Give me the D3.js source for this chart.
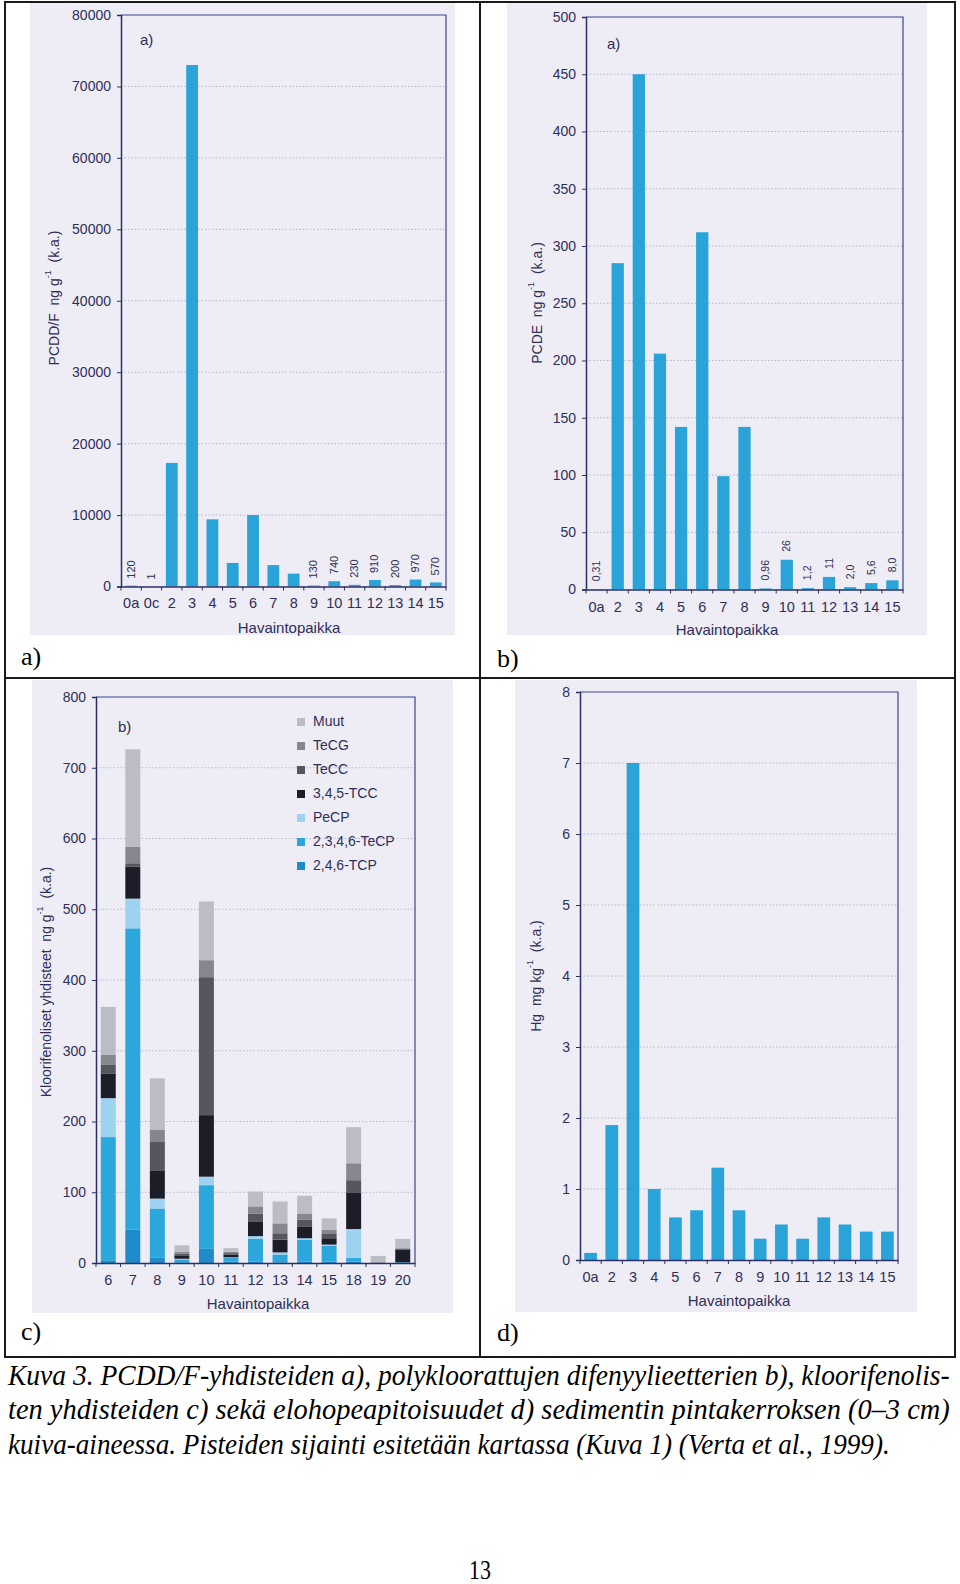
<!DOCTYPE html>
<html><head><meta charset="utf-8">
<script src="https://cdn.jsdelivr.net/npm/d3@7"></script>
<style>
html,body{margin:0;padding:0;background:#fff;}
svg{display:block;}
.sans{font-family:"Liberation Sans",Arial,Helvetica,sans-serif;}
.serif{font-family:"Liberation Serif","Times New Roman",serif;}
</style></head><body>
<svg id="chart" width="960" height="1584"></svg>
<script>
// ---------- DATA ----------
// a) PCDD/F ng/g (k.a.)
const catsA = ["0a","0c","2","3","4","5","6","7","8","9","10","11","12","13","14","15"];
const valsA = [120, 1, 17300, 73000, 9400, 3300, 10000, 3000, 1800, 130, 740, 230, 910, 200, 970, 570];
const labelsA = ["120","1","","","","","","","","130","740","230","910","200","970","570"];
const ticksA = [0,10000,20000,30000,40000,50000,60000,70000,80000];

// b) PCDE ng/g (k.a.)
const catsB = ["0a","2","3","4","5","6","7","8","9","10","11","12","13","14","15"];
const valsB = [0.31, 285, 450, 206, 142, 312, 99, 142, 0.96, 26, 1.2, 11, 2.0, 5.6, 8.0];
const labelsB = ["0,31","","","","","","","","0,96","26","1,2","11","2,0","5,6","8,0"];
const ticksB = [0,50,100,150,200,250,300,350,400,450,500];

// c) Kloorifenoliset yhdisteet ng/g (k.a.), stacked
const catsC = ["6","7","8","9","10","11","12","13","14","15","18","19","20"];
const tcpC  = [3, 47, 8, 1, 20, 2, 2, 1, 2, 2, 2, 0, 0];
const tecpC = [175, 426, 69, 4, 90, 5, 32, 11, 31, 22, 5, 0, 1];
const pecpC = [55, 42, 14, 1, 12, 1, 4, 3, 2, 2, 41, 0, 0];
const tccC  = [35, 45, 40, 4, 87, 4, 20, 18, 16, 9, 51, 0, 18];
const teccC = [12, 5, 40, 3, 195, 2, 12, 9, 10, 6, 18, 0, 1];
const tecgC = [14, 23, 17, 3, 24, 2, 10, 14, 9, 6, 24, 1, 1];
const muutC = [68, 138, 73, 9, 83, 5, 21, 31, 25, 16, 51, 9, 13];
const seriesNamesC = ["2,4,6-TCP","2,3,4,6-TeCP","PeCP","3,4,5-TCC","TeCC","TeCG","Muut"];
const ticksC = [0,100,200,300,400,500,600,700,800];

// d) Hg mg/kg (k.a.)
const catsD = ["0a","2","3","4","5","6","7","8","9","10","11","12","13","14","15"];
const valsD = [0.1, 1.9, 7.0, 1.0, 0.6, 0.7, 1.3, 0.7, 0.3, 0.5, 0.3, 0.6, 0.5, 0.4, 0.4];
const ticksD = [0,1,2,3,4,5,6,7,8];

const captionLines = [
  "Kuva 3. PCDD/F-yhdisteiden a), polykloorattujen difenyylieetterien b), kloorifenolis-",
  "ten yhdisteiden c) sekä elohopeapitoisuudet d) sedimentin pintakerroksen (0–3 cm)",
  "kuiva-aineessa. Pisteiden sijainti esitetään kartassa (Kuva 1) (Verta et al., 1999)."
];

// ---------- STYLE ----------
const BAR = "#2aa3d8";
const SCAN_BG = "#eeedf6";
const FRAME = "#3d4491";
const AXIS = "#2b2f68";
const TXT = "#2e2e58";
const GRID = "#b4b4cc";
const stackColors = ["#1f8bcb","#2ba7dc","#9dd2f0","#1d1d2a","#56565f","#86868f","#bcbcc6"];

const svg = d3.select("#chart");

function yTitle(g, x, y, main, tail) {
  const t = g.append("text").attr("class","sans")
    .attr("transform", `translate(${x},${y}) rotate(-90)`)
    .attr("text-anchor","middle").attr("dominant-baseline","middle")
    .attr("font-size",14).attr("fill",TXT).style("white-space","pre");
  t.append("tspan").text(main);
  t.append("tspan").attr("dy",-6).attr("font-size",9).text("-1");
  t.append("tspan").attr("dy",6).text(tail);
}

function drawPanel(cfg) {
  const g = svg.append("g");
  g.append("rect").attr("x",cfg.bg[0]).attr("y",cfg.bg[1])
    .attr("width",cfg.bg[2]-cfg.bg[0]).attr("height",cfg.bg[3]-cfg.bg[1])
    .attr("fill",SCAN_BG);

  const x = d3.scaleBand().domain(cfg.cats).range([cfg.left,cfg.right])
    .paddingInner(cfg.pad).paddingOuter(cfg.pad/2);
  const y = d3.scaleLinear().domain([0,cfg.max]).range([cfg.bottom,cfg.top]);

  // gridlines
  g.append("g").selectAll("line").data(cfg.ticks.filter(t=>t>0 && t<cfg.max)).join("line")
    .attr("x1",cfg.left).attr("x2",cfg.right)
    .attr("y1",d=>y(d)).attr("y2",d=>y(d))
    .attr("stroke",GRID).attr("stroke-width",1).attr("stroke-dasharray","1.5,2");

  if (cfg.stack) {
    const rows = cfg.cats.map((c,i)=>{
      const r = {cat:c};
      cfg.stack.keys.forEach((k,j)=>{ r[k] = cfg.stack.arrays[j][i]; });
      return r;
    });
    const st = d3.stack().keys(cfg.stack.keys)(rows);
    g.append("g").selectAll("g").data(st).join("g")
      .attr("fill",(d,i)=>cfg.stack.colors[i])
      .selectAll("rect").data(d=>d).join("rect")
      .attr("x",d=>x(d.data.cat)).attr("width",x.bandwidth())
      .attr("y",d=>y(d[1])).attr("height",d=>Math.max(0,y(d[0])-y(d[1])));
  } else {
    g.append("g").selectAll("rect").data(cfg.vals).join("rect")
      .attr("x",(d,i)=>x(cfg.cats[i])).attr("width",x.bandwidth())
      .attr("y",d=>y(d)).attr("height",d=>cfg.bottom-y(d))
      .attr("fill",BAR);
  }

  // value labels (rotated)
  if (cfg.labels) {
    g.append("g").selectAll("text").data(cfg.labels).join("text")
      .attr("class","sans")
      .attr("transform",(d,i)=>`translate(${x(cfg.cats[i])+x.bandwidth()/2+3.5},${y(cfg.vals[i])-cfg.labelGap}) rotate(-90)`)
      .attr("text-anchor","start").attr("font-size",cfg.labelSize).attr("fill",TXT)
      .text(d=>d);
  }

  // frame
  g.append("path")
    .attr("d",`M${cfg.left},${cfg.top}H${cfg.right}V${cfg.bottom}`)
    .attr("fill","none").attr("stroke",FRAME).attr("stroke-width",1.2);

  // y axis
  const ya = g.append("g").attr("class","sans").attr("transform",`translate(${cfg.left},0)`)
    .call(d3.axisLeft(y).tickValues(cfg.ticks).tickSize(4).tickPadding(6).tickFormat(d3.format("d")));
  ya.select(".domain").attr("stroke",AXIS).attr("stroke-width",1.5);
  ya.selectAll(".tick line").attr("stroke",AXIS);
  ya.selectAll("text").attr("font-size",14).attr("fill",TXT).attr("font-family",null);

  // x axis: ticks at band boundaries
  const xa = g.append("g").attr("class","sans").attr("transform",`translate(0,${cfg.bottom})`)
    .call(d3.axisBottom(x).tickSize(0).tickPadding(cfg.xLabelDy));
  xa.select(".domain").attr("stroke",AXIS).attr("stroke-width",1.5);
  xa.selectAll("text").attr("font-size",14.5).attr("fill",TXT).attr("font-family",null);
  const step = x.step();
  const bounds = cfg.cats.map((c,i)=> x(c) - step*cfg.pad/2).concat([cfg.right]);
  g.append("g").selectAll("line").data(bounds).join("line")
    .attr("x1",d=>d).attr("x2",d=>d).attr("y1",cfg.bottom).attr("y2",cfg.bottom+4)
    .attr("stroke",AXIS).attr("stroke-width",1);

  // x title
  g.append("text").attr("class","sans").attr("x",cfg.xTitle[0]).attr("y",cfg.xTitle[1])
    .attr("text-anchor","middle").attr("dominant-baseline","middle")
    .attr("font-size",15).attr("fill",TXT).text("Havaintopaikka");

  // y title
  yTitle(g, cfg.yTitle[0], cfg.yTitle[1], cfg.yTitle[2], cfg.yTitle[3]);

  // inner label
  if (cfg.inner) {
    g.append("text").attr("class","sans").attr("x",cfg.inner[0]).attr("y",cfg.inner[1])
      .attr("dominant-baseline","middle").attr("font-size",15).attr("fill",TXT).text(cfg.inner[2]);
  }
  // cell caption
  g.append("text").attr("class","serif").attr("x",cfg.cap[0]).attr("y",cfg.cap[1])
    .attr("font-size",26).attr("fill","#000").text(cfg.cap[2]);
  return {g,x,y};
}

// Panel a
drawPanel({cats:catsA, vals:valsA, ticks:ticksA, max:80000, labels:labelsA, labelSize:11, labelGap:7,
  left:121, right:446, top:15, bottom:586.5, pad:0.42, xLabelDy:11,
  bg:[30,3,455,635], xTitle:[289,629], yTitle:[55,298,"PCDD/F  ng g","  (k.a.)"],
  inner:[140,41,"a)"], cap:[21,665,"a)"]});

// Panel b
drawPanel({cats:catsB, vals:valsB, ticks:ticksB, max:500, labels:labelsB, labelSize:10.5, labelGap:8,
  left:586, right:903, top:17, bottom:589.5, pad:0.42, xLabelDy:12,
  bg:[507,3,927,635], xTitle:[727,631], yTitle:[538,303,"PCDE  ng g","  (k.a.)"],
  inner:[607,45,"a)"], cap:[497,667,"b)"]});

// Panel c (stacked)
const pc = drawPanel({cats:catsC, ticks:ticksC, max:800,
  stack:{keys:seriesNamesC, arrays:[tcpC,tecpC,pecpC,tccC,teccC,tecgC,muutC], colors:stackColors},
  left:96, right:415, top:697, bottom:1263, pad:0.39, xLabelDy:12,
  bg:[32,680,453,1313], xTitle:[258,1305], yTitle:[47,982,"Kloorifenoliset yhdisteet  ng g","  (k.a.)"],
  inner:[118,728,"b)"], cap:[21,1340,"c)"]});

// legend for c (top to bottom: reverse of stack order)
const legendItems = seriesNamesC.map((n,i)=>({name:n,color:stackColors[i]})).reverse();
const lg = pc.g.append("g").attr("class","sans");
const lgY = d3.scalePoint().domain(legendItems.map(d=>d.name)).range([722,866]);
lg.selectAll("rect").data(legendItems).join("rect")
  .attr("x",297).attr("y",d=>lgY(d.name)-4).attr("width",8).attr("height",8).attr("fill",d=>d.color);
lg.selectAll("text").data(legendItems).join("text")
  .attr("x",313).attr("y",d=>lgY(d.name)).attr("dominant-baseline","middle")
  .attr("font-size",14).attr("fill",TXT).text(d=>d.name);

// Panel d
drawPanel({cats:catsD, vals:valsD, ticks:ticksD, max:8,
  left:580, right:898, top:692, bottom:1260, pad:0.4, xLabelDy:12,
  bg:[515,680,917,1312], xTitle:[739,1302], yTitle:[537,976,"Hg  mg kg","  (k.a.)"],
  cap:[497,1341,"d)"]});

// table borders
const tb = svg.append("g").attr("stroke","#1a1a1a").attr("stroke-width",2).attr("fill","none");
tb.append("rect").attr("x",5).attr("y",2).attr("width",950).attr("height",1355);
tb.append("line").attr("x1",480).attr("x2",480).attr("y1",2).attr("y2",1357);
tb.append("line").attr("x1",5).attr("x2",955).attr("y1",678).attr("y2",678);

// caption: condensed italic lines, scaled horizontally to the justified width
const capY = [1385,1419,1454];
const capW = [942,942,882];
const capG = svg.append("g");
captionLines.forEach((line,i)=>{
  const t = capG.append("text").attr("class","serif")
    .attr("font-size",29).attr("font-style","italic").attr("fill","#000").text(line);
  const w = t.node().getComputedTextLength();
  const sx = capW[i]/w;
  t.attr("transform",`translate(8,${capY[i]}) scale(${sx},1)`);
});

const pn = svg.append("text").attr("class","serif").attr("font-size",28).attr("fill","#000").text("13");
const pnw = pn.node().getComputedTextLength();
pn.attr("transform",`translate(${480-11},1579) scale(${22/pnw},1)`);
</script>
</body></html>
